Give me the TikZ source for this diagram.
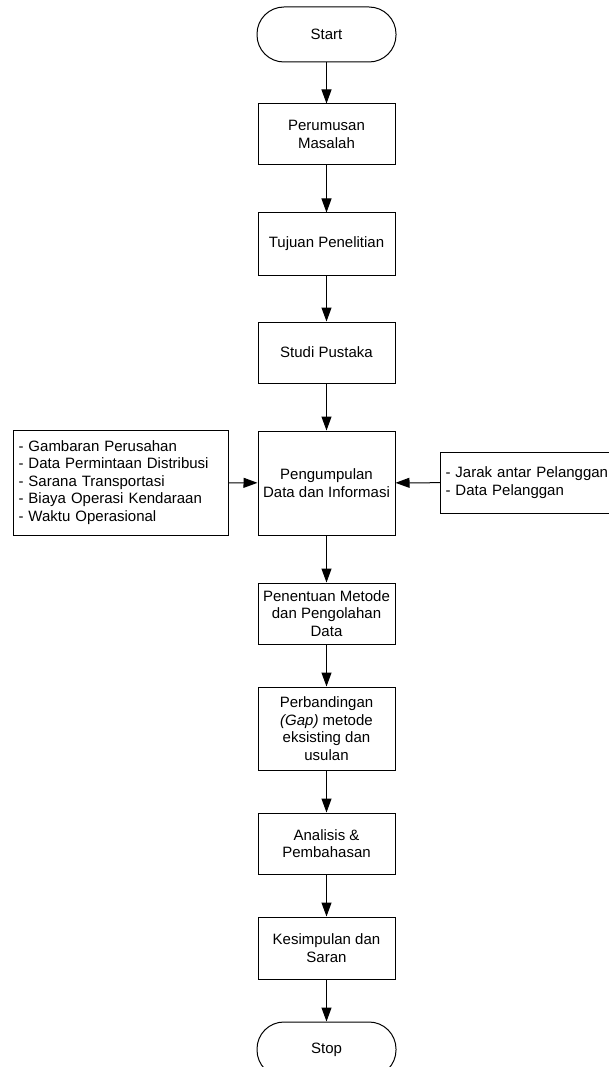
\documentclass[tikz,border=0pt]{standalone}
\usepackage{fontspec}
\setmainfont{Liberation Sans}
\usepackage{tikz}
\usetikzlibrary{arrows.meta,positioning}

\begin{document}
\begin{tikzpicture}[
    x=1pt, y=-1pt,
    every node/.style={font=\fontsize{15}{17.5}\selectfont},
    process/.style={draw, line width=1pt, minimum width=137pt, minimum height=#1, align=center, inner sep=2pt},
    process/.default=61pt,
    terminal/.style={draw, line width=1pt, minimum width=139pt, minimum height=55pt, rounded corners=27pt},
    note/.style={draw, line width=1pt, text width=#1, inner xsep=5pt, align=left},
    arrow/.style={-{Triangle[length=14pt, width=10pt]}, line width=1pt}
]
\useasboundingbox (0,0) rectangle (608,1067);

% Main flow
\node[terminal] (start) at (326.5, 34.5) {Start};
\node[process] (rumusan) at (326.5, 134.5) {Perumusan\\Masalah};
\node[process=62pt] (tujuan) at (326.5, 244) {Tujuan Penelitian};
\node[process] (studi) at (326.5, 352.5) {Studi Pustaka};
\node[process=104pt] (kumpul) at (326.5, 483) {Pengumpulan\\Data dan Informasi};
\node[process] (metode) at (326.5, 613.5) {Penentuan Metode\\dan Pengolahan\\Data};
\node[process=83pt] (gap) at (326.5, 728.5) {Perbandingan\\\textit{(Gap)} metode\\eksisting dan\\usulan};
\node[process] (analisis) at (326.5, 843.5) {Analisis \&\\Pembahasan};
\node[process=62pt] (simpul) at (326.5, 948) {Kesimpulan dan\\Saran};
\node[terminal] (stop) at (326.5, 1049.5) {Stop};

% Data inputs
\node[note=205pt, minimum height=105pt, anchor=west] (datakiri) at (13, 482.5) {%
    - Gambaran Perusahan\\
    - Data Permintaan Distribusi\\
    - Sarana Transportasi\\
    - Biaya Operasi Kendaraan\\
    - Waktu Operasional};
\node[note=170pt, minimum height=61pt, anchor=west] (datakanan) at (440, 482.5) {%
    - Jarak antar Pelanggan\\
    - Data Pelanggan};

% Arrows
\draw[arrow] (start) -- (rumusan);
\draw[arrow] (rumusan) -- (tujuan);
\draw[arrow] (tujuan) -- (studi);
\draw[arrow] (studi) -- (kumpul);
\draw[arrow] (kumpul) -- (metode);
\draw[arrow] (metode) -- (gap);
\draw[arrow] (gap) -- (analisis);
\draw[arrow] (analisis) -- (simpul);
\draw[arrow] (simpul) -- (stop);
\draw[arrow] (datakiri) -- (kumpul);
\draw[arrow] (datakanan) -- (kumpul);

\end{tikzpicture}
\end{document}
